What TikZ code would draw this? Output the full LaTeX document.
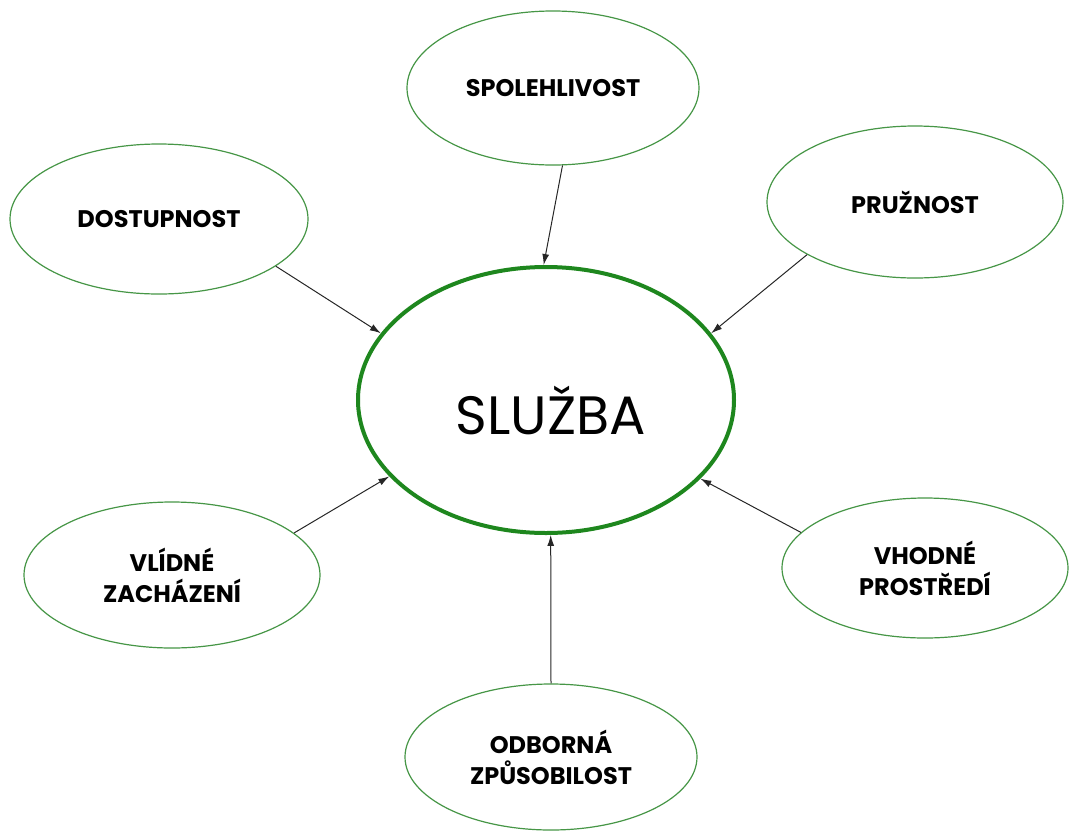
\documentclass[tikz,border=0pt]{standalone}
\usepackage{fontspec}
\setmainfont{Poppins}
\usetikzlibrary{shapes.geometric,arrows.meta}
\definecolor{rimgreen}{RGB}{70,150,70}
\definecolor{hubgreen}{RGB}{30,135,30}
\begin{document}
\begin{tikzpicture}[x=1pt,y=-1pt,
  leaf/.style={ellipse, draw=rimgreen, line width=1.2pt, inner sep=0pt, fill=white,
    align=center, font=\fontsize{24}{31}\selectfont\bfseries},
  hub/.style={ellipse, draw=hubgreen, line width=4pt, inner sep=0pt, fill=white,
    minimum width=376pt, minimum height=266pt},
  hubtext/.style={font=\fontsize{54}{60}\selectfont},
  link/.style={-{Latex[length=11pt,width=7pt]}, line width=1pt, black!85}]
\useasboundingbox (0,0) rectangle (1072,831);

\node[hub] (hub) at (546,400) {};
\node[hubtext] (hublabel) at (551,410) {SLUŽBA};

\node[leaf, minimum width=292pt, minimum height=154pt] (spol) at (553,88) {SPOLEHLIVOST};
\node[leaf, minimum width=298pt, minimum height=150pt] (dost) at (159,219) {DOSTUPNOST};
\node[leaf, minimum width=296pt, minimum height=152pt] (pruz) at (915,202) {PRUŽNOST};
\node[leaf, minimum width=296pt, minimum height=146pt] (vlid) at (172,575) {VLÍDNÉ\\ZACHÁZENÍ};
\node[leaf, minimum width=286pt, minimum height=140pt] (vhod) at (925,568) {VHODNÉ\\PROSTŘEDÍ};
\node[leaf, minimum width=292pt, minimum height=146pt] (odb) at (551,757) {ODBORNÁ\\ZPŮSOBILOST};

\draw[link] (spol.-83) -- (hub.91);
\draw[link] (dost.-22) -- (hub.158);
\draw[link] (pruz.206) -- (hub.22);
\draw[link] (vlid.19) -- (hub.206);
\draw[link] (vhod.164) -- (hub.-27);
\draw[link] (odb.90) -- (hub.-88);
\end{tikzpicture}
\end{document}
